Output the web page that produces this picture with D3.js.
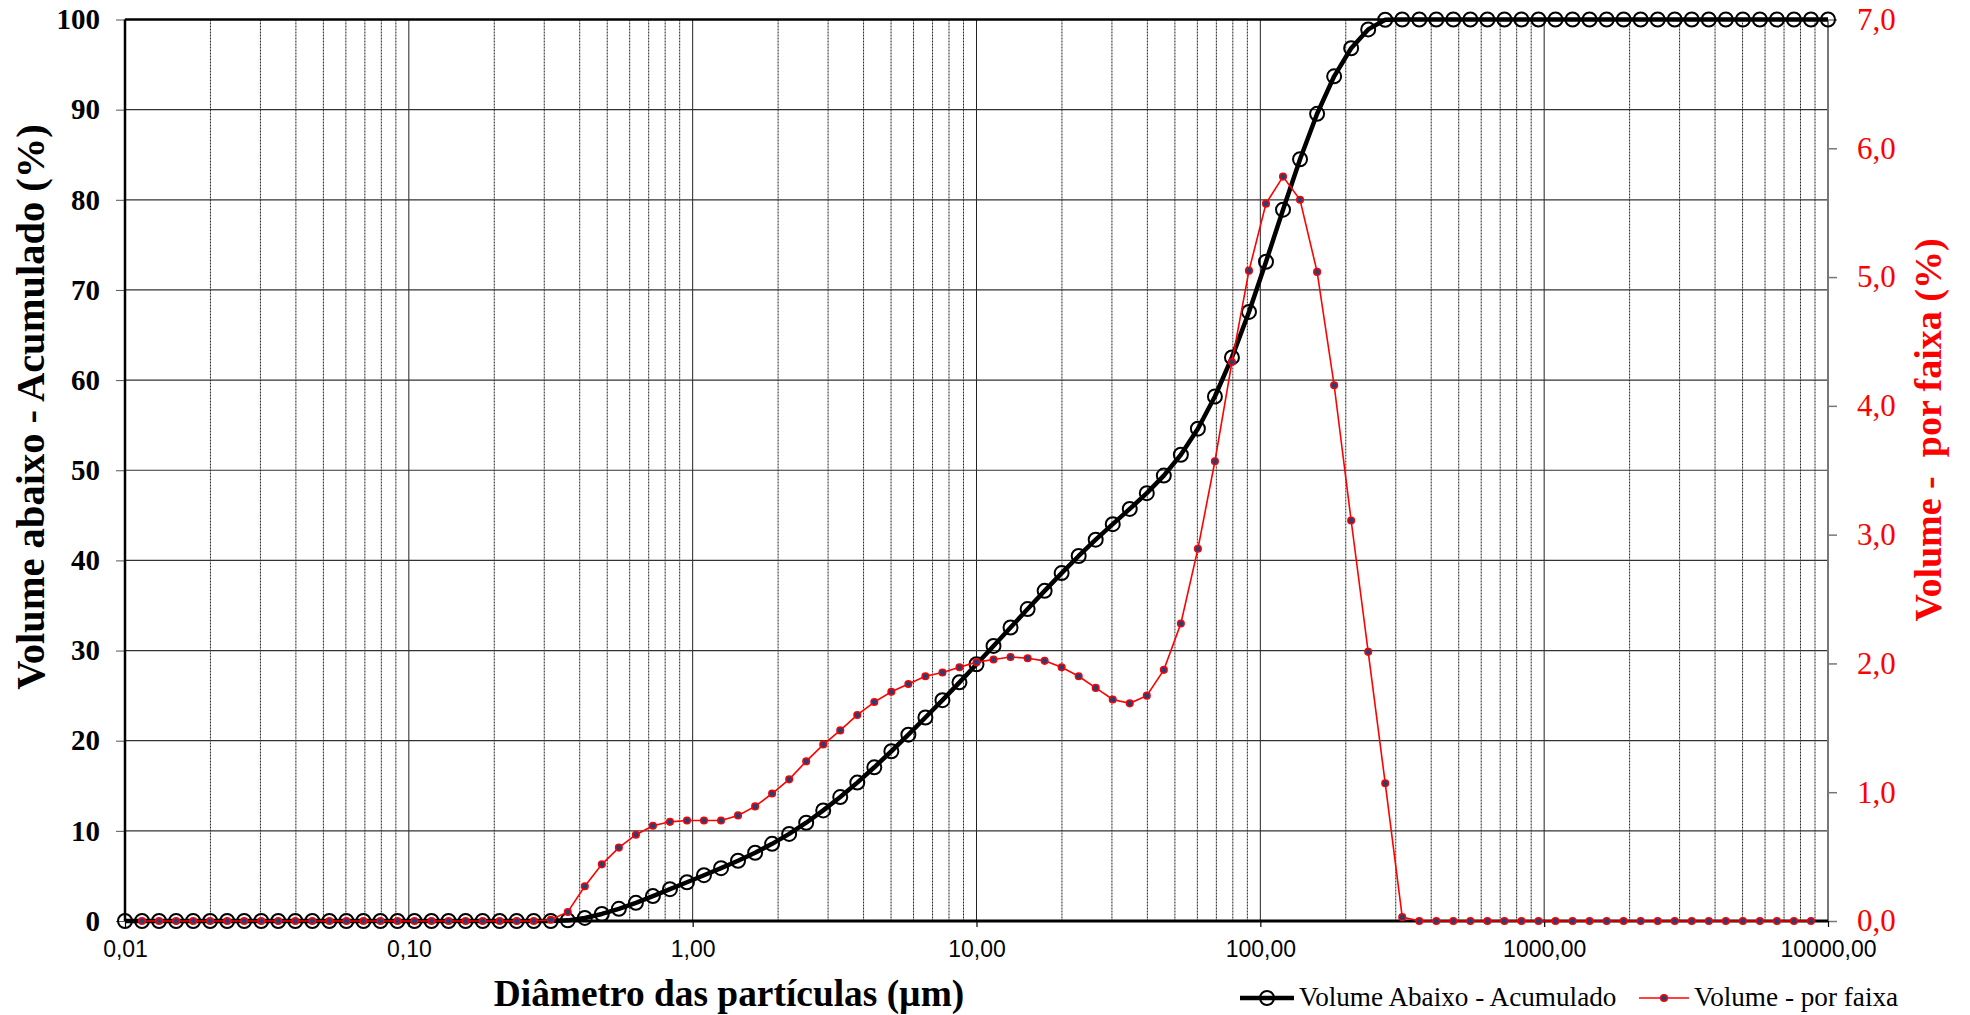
<!DOCTYPE html>
<html>
<head>
<meta charset="utf-8">
<script src="https://cdn.jsdelivr.net/npm/d3@7"></script>
<style>
  body { margin: 0; background: #fff; }
  svg { display: block; background: #fff; }
</style>
</head>
<body>
<svg id="chart"></svg>
<script>
// size classes (µm), 0.01 .. 10000
const diameters = [
  0.0100, 0.01148, 0.01318, 0.01514, 0.01738, 0.01995, 0.02291, 0.02630, 0.03020, 0.03467,
  0.03981, 0.04571, 0.05248, 0.06026, 0.06918, 0.07943, 0.09120, 0.1047, 0.1202, 0.1380,
  0.1585, 0.1820, 0.2089, 0.2399, 0.2754, 0.3162, 0.3631, 0.4169, 0.4786, 0.5495,
  0.6310, 0.7244, 0.8318, 0.9550, 1.096, 1.259, 1.445, 1.660, 1.905, 2.188,
  2.512, 2.884, 3.311, 3.802, 4.365, 5.012, 5.754, 6.607, 7.586, 8.710,
  10.00, 11.48, 13.18, 15.14, 17.38, 19.95, 22.91, 26.30, 30.20, 34.67,
  39.81, 45.71, 52.48, 60.26, 69.18, 79.43, 91.20, 104.7, 120.2, 138.0,
  158.5, 182.0, 208.9, 239.9, 275.4, 316.2, 363.1, 416.9, 478.6, 549.5,
  631.0, 724.4, 831.8, 955.0, 1096, 1259, 1445, 1660, 1905, 2188,
  2512, 2884, 3311, 3802, 4365, 5012, 5754, 6607, 7586, 8710,
  10000
];

// Volume abaixo - acumulado (%), one per diameter
const cumulativeVolume = [
  0, 0, 0, 0, 0, 0, 0, 0, 0, 0,
  0, 0, 0, 0, 0, 0, 0, 0, 0, 0,
  0, 0, 0, 0, 0, 0, 0.07, 0.34, 0.78, 1.35,
  2.02, 2.76, 3.53, 4.30, 5.08, 5.86, 6.68, 7.57, 8.56, 9.66,
  10.90, 12.27, 13.75, 15.35, 17.05, 18.83, 20.67, 22.57, 24.50, 26.47,
  28.48, 30.51, 32.56, 34.60, 36.62, 38.59, 40.49, 42.30, 44.02, 45.71,
  47.46, 49.41, 51.72, 54.61, 58.18, 62.52, 67.56, 73.13, 78.90, 84.50,
  89.54, 93.70, 96.81, 98.90, 99.97, 100, 100, 100, 100, 100,
  100, 100, 100, 100, 100, 100, 100, 100, 100, 100,
  100, 100, 100, 100, 100, 100, 100, 100, 100, 100,
  100
];

// Volume por faixa (%), diameters[1] .. diameters[99]
const bandVolume = [
  0, 0, 0, 0, 0, 0, 0, 0, 0,
  0, 0, 0, 0, 0, 0, 0, 0, 0, 0,
  0, 0, 0, 0, 0, 0.01, 0.07, 0.27, 0.44, 0.57,
  0.67, 0.74, 0.77, 0.78, 0.78, 0.78, 0.82, 0.89, 0.99, 1.10,
  1.24, 1.37, 1.48, 1.60, 1.70, 1.78, 1.84, 1.90, 1.93, 1.97,
  2.01, 2.03, 2.05, 2.04, 2.02, 1.97, 1.90, 1.81, 1.72, 1.69,
  1.75, 1.95, 2.31, 2.89, 3.57, 4.34, 5.05, 5.57, 5.78, 5.60,
  5.04, 4.16, 3.11, 2.09, 1.07, 0.03, 0, 0, 0, 0,
  0, 0, 0, 0, 0, 0, 0, 0, 0, 0,
  0, 0, 0, 0, 0, 0, 0, 0, 0, 0
];

const leftTicks = [0, 10, 20, 30, 40, 50, 60, 70, 80, 90, 100];
const rightTicks = [0, 1, 2, 3, 4, 5, 6, 7];
const rightTickLabels = ['0,0', '1,0', '2,0', '3,0', '4,0', '5,0', '6,0', '7,0'];
const xTicks = [0.01, 0.1, 1, 10, 100, 1000, 10000];
const xTickLabels = ['0,01', '0,10', '1,00', '10,00', '100,00', '1000,00', '10000,00'];
const legendLabels = ['Volume Abaixo - Acumulado', 'Volume - por faixa'];

const SERIF = '"Liberation Serif", "Times New Roman", serif';
const SANS = '"Liberation Sans", Arial, sans-serif';

class GranChart {
  constructor(_config) {
    this.config = {
      parentElement: _config.parentElement,
      containerWidth: _config.containerWidth,
      containerHeight: _config.containerHeight,
      margin: {top: 19.5, right: 142, bottom: 94, left: 125},
    };
    this.initVis();
  }

  initVis() {
    let vis = this;

    vis.width = vis.config.containerWidth - vis.config.margin.left - vis.config.margin.right;
    vis.height = vis.config.containerHeight - vis.config.margin.top - vis.config.margin.bottom;

    vis.xScale = d3.scaleLog()
        .domain([0.01, 10000])
        .range([0, vis.width]);

    vis.yLeft = d3.scaleLinear()
        .domain([0, 100])
        .range([vis.height, 0]);

    vis.yRight = d3.scaleLinear()
        .domain([0, 7])
        .range([vis.height, 0]);

    vis.svg = d3.select(vis.config.parentElement)
        .attr('width', vis.config.containerWidth)
        .attr('height', vis.config.containerHeight);

    vis.chart = vis.svg.append('g')
        .attr('transform', `translate(${vis.config.margin.left},${vis.config.margin.top})`);

    vis.renderVis();
  }

  renderVis() {
    let vis = this;
    const w = vis.width, h = vis.height;

    // vertical grid: minor dotted, decades solid
    const allTicks = vis.xScale.ticks();
    const isDecade = d => Math.abs(Math.log10(d) - Math.round(Math.log10(d))) < 1e-6;
    const minor = allTicks.filter(d => !isDecade(d));
    const decades = allTicks.filter(d => isDecade(d) && d > 0.01 && d < 10000);

    vis.chart.append('g').selectAll('line')
        .data(minor)
      .join('line')
        .attr('x1', d => vis.xScale(d)).attr('x2', d => vis.xScale(d))
        .attr('y1', 0).attr('y2', h)
        .attr('stroke', '#222')
        .attr('stroke-width', 1)
        .attr('stroke-dasharray', '2,1');

    vis.chart.append('g').selectAll('line')
        .data(decades)
      .join('line')
        .attr('x1', d => vis.xScale(d)).attr('x2', d => vis.xScale(d))
        .attr('y1', 0).attr('y2', h)
        .attr('stroke', '#222')
        .attr('stroke-width', 1);

    // horizontal grid
    vis.chart.append('g').selectAll('line')
        .data(leftTicks.filter(d => d > 0 && d < 100))
      .join('line')
        .attr('x1', 0).attr('x2', w)
        .attr('y1', d => vis.yLeft(d)).attr('y2', d => vis.yLeft(d))
        .attr('stroke', '#333')
        .attr('stroke-width', 1.2);

    // axes
    const leftAxis = d3.axisLeft(vis.yLeft)
        .tickValues(leftTicks)
        .tickSize(9)
        .tickPadding(16);
    const leftG = vis.chart.append('g').call(leftAxis);
    leftG.select('.domain').remove();
    leftG.selectAll('line').attr('stroke', '#555');
    leftG.selectAll('text')
        .attr('font-family', SERIF)
        .attr('font-weight', 'bold')
        .attr('font-size', 29)
        .attr('fill', '#000');

    const rightAxis = d3.axisRight(vis.yRight)
        .tickValues(rightTicks)
        .tickFormat((d, i) => rightTickLabels[i])
        .tickSize(9)
        .tickPadding(20);
    const rightG = vis.chart.append('g')
        .attr('transform', `translate(${w},0)`)
        .call(rightAxis);
    rightG.select('.domain').remove();
    rightG.selectAll('line').attr('stroke', '#777').attr('stroke-width', 1.5);
    rightG.selectAll('text')
        .attr('font-family', SERIF)
        .attr('font-size', 31)
        .attr('fill', '#ff0000');

    const bottomAxis = d3.axisBottom(vis.xScale)
        .tickValues(xTicks)
        .tickFormat((d, i) => xTickLabels[i])
        .tickSize(6)
        .tickPadding(14);
    const bottomG = vis.chart.append('g')
        .attr('transform', `translate(0,${h})`)
        .call(bottomAxis);
    bottomG.select('.domain').remove();
    bottomG.selectAll('line').attr('stroke', '#000').attr('stroke-width', 1.2);
    bottomG.selectAll('text')
        .attr('font-family', SANS)
        .attr('font-size', 23)
        .attr('fill', '#000');

    // frame lines
    vis.chart.append('line')
        .attr('x1', w).attr('x2', w).attr('y1', 0).attr('y2', h)
        .attr('stroke', '#777').attr('stroke-width', 2);
    vis.chart.append('line')
        .attr('x1', 0).attr('x2', w).attr('y1', 0).attr('y2', 0)
        .attr('stroke', '#000').attr('stroke-width', 2.5);
    vis.chart.append('line')
        .attr('x1', 0).attr('x2', 0).attr('y1', 0).attr('y2', h)
        .attr('stroke', '#000').attr('stroke-width', 2.5);
    vis.chart.append('line')
        .attr('x1', 0).attr('x2', w).attr('y1', h).attr('y2', h)
        .attr('stroke', '#000').attr('stroke-width', 3);

    // cumulative series
    const cumData = diameters.map((d, i) => ({d: d, v: cumulativeVolume[i]}));
    const cumLine = d3.line()
        .x(d => vis.xScale(d.d))
        .y(d => vis.yLeft(d.v));

    vis.chart.append('path')
        .datum(cumData)
        .attr('d', cumLine)
        .attr('fill', 'none')
        .attr('stroke', '#000')
        .attr('stroke-width', 4.5)
        .attr('stroke-linejoin', 'round');

    vis.chart.append('g').selectAll('circle')
        .data(cumData)
      .join('circle')
        .attr('cx', d => vis.xScale(d.d))
        .attr('cy', d => vis.yLeft(d.v))
        .attr('r', 7)
        .attr('fill', 'none')
        .attr('stroke', '#000')
        .attr('stroke-width', 2);

    // band series
    const bandData = bandVolume.map((v, i) => ({d: diameters[i + 1], v: v}));
    const bandLine = d3.line()
        .x(d => vis.xScale(d.d))
        .y(d => vis.yRight(d.v));

    vis.chart.append('path')
        .datum(bandData)
        .attr('d', bandLine)
        .attr('fill', 'none')
        .attr('stroke', '#ff0000')
        .attr('stroke-width', 1.6);

    vis.chart.append('g').selectAll('circle')
        .data(bandData)
      .join('circle')
        .attr('cx', d => vis.xScale(d.d))
        .attr('cy', d => vis.yRight(d.v))
        .attr('r', 3.3)
        .attr('fill', '#24407a')
        .attr('stroke', '#ff0000')
        .attr('stroke-width', 1.5);

    // axis titles
    vis.svg.append('text')
        .attr('transform', 'translate(44,407) rotate(-90)')
        .attr('text-anchor', 'middle')
        .attr('font-family', SERIF)
        .attr('font-weight', 'bold')
        .attr('font-size', 40.5)
        .attr('fill', '#000')
        .text('Volume abaixo - Acumulado (%)');

    vis.svg.append('text')
        .attr('transform', 'translate(1941,430) rotate(-90)')
        .attr('text-anchor', 'middle')
        .attr('font-family', SERIF)
        .attr('font-weight', 'bold')
        .attr('font-size', 38)
        .attr('fill', '#ff0000')
        .attr('xml:space', 'preserve')
        .style('white-space', 'pre')
        .text('Volume -  por faixa (%)');

    vis.svg.append('text')
        .attr('x', 729)
        .attr('y', 1006)
        .attr('text-anchor', 'middle')
        .attr('font-family', SERIF)
        .attr('font-weight', 'bold')
        .attr('font-size', 37.4)
        .attr('fill', '#000')
        .text('Diâmetro das partículas (µm)');

    // legend
    const lg = vis.svg.append('g');
    lg.append('line')
        .attr('x1', 1240).attr('x2', 1294).attr('y1', 998).attr('y2', 998)
        .attr('stroke', '#000').attr('stroke-width', 4.5);
    lg.append('circle')
        .attr('cx', 1267).attr('cy', 998).attr('r', 7)
        .attr('fill', 'none').attr('stroke', '#000').attr('stroke-width', 2);
    lg.append('text')
        .attr('x', 1299).attr('y', 1006)
        .attr('font-family', SERIF).attr('font-size', 27.2).attr('fill', '#000')
        .text(legendLabels[0]);

    lg.append('line')
        .attr('x1', 1639).attr('x2', 1689).attr('y1', 998).attr('y2', 998)
        .attr('stroke', '#ff0000').attr('stroke-width', 1.6);
    lg.append('circle')
        .attr('cx', 1664).attr('cy', 998).attr('r', 3.3)
        .attr('fill', '#24407a').attr('stroke', '#ff0000').attr('stroke-width', 1.5);
    lg.append('text')
        .attr('x', 1694).attr('y', 1006)
        .attr('font-family', SERIF).attr('font-size', 27.2).attr('fill', '#000')
        .text(legendLabels[1]);
  }
}

new GranChart({
  parentElement: '#chart',
  containerWidth: 1970,
  containerHeight: 1015,
});
</script>
</body>
</html>
